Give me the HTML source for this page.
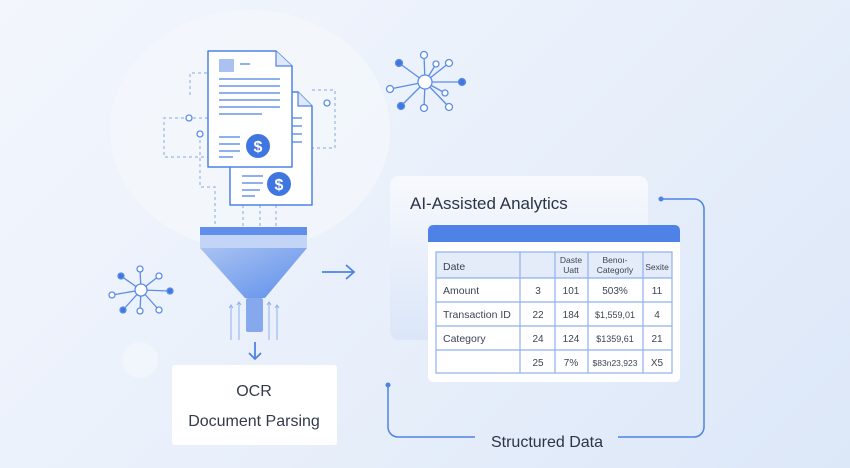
<!DOCTYPE html>
<html><head><style>
html,body{margin:0;padding:0;width:850px;height:468px;overflow:hidden}
body{background:linear-gradient(135deg,#f3f6fc 0%,#e9f0fb 50%,#dce7f8 100%);font-family:"Liberation Sans",sans-serif}
</style></head><body>
<svg width="850" height="468" viewBox="0 0 850 468" xmlns="http://www.w3.org/2000/svg" font-family="Liberation Sans, sans-serif">
<defs>
<linearGradient id="cone" x1="0" y1="0" x2="1" y2="1"><stop offset="0" stop-color="#a9c3f3"/><stop offset="1" stop-color="#5f8fea"/></linearGradient>
<linearGradient id="card" x1="0" y1="0" x2="0" y2="1"><stop offset="0" stop-color="#f7f9fd"/><stop offset="1" stop-color="#dbe6f8"/></linearGradient>
</defs>
<ellipse cx="250" cy="130" rx="140" ry="120" fill="#f4f7fc" opacity="0.8"/>
<circle cx="140" cy="360" r="18" fill="#f1f5fc"/>
<!-- dashed connectors -->
<g fill="none" stroke="#9ab5ea" stroke-width="1.2" stroke-dasharray="3,3">
<path d="M208 118 H164 V157 H208"/>
<path d="M190 95 V73 H208"/>
<path d="M200 140 V187 H215 V226"/>
<path d="M312 90 H335 V148 H312"/>
<path d="M243 205 V226 M260 205 V226 M276 205 V226"/>
</g>
<circle cx="189" cy="118" r="3" fill="#fff" stroke="#5b8de8" stroke-width="1.3"/>
<circle cx="200" cy="134" r="3" fill="#fff" stroke="#5b8de8" stroke-width="1.3"/>
<circle cx="327" cy="103" r="3" fill="#fff" stroke="#5b8de8" stroke-width="1.3"/>
<!-- back doc -->
<path d="M230 92 H298 L312 106 V205 H230 Z" fill="#fff" stroke="#4f82e6" stroke-width="1.5" stroke-linejoin="round"/>
<path d="M298 92 V106 H312" fill="#dfe8f8" stroke="#4f82e6" stroke-width="1.2"/>
<g stroke="#8fb0ee" stroke-width="2"><line x1="292" y1="118" x2="302" y2="118"/><line x1="292" y1="126" x2="302" y2="126"/><line x1="292" y1="134" x2="302" y2="134"/><line x1="292" y1="142" x2="302" y2="142"/>
<line x1="242" y1="176" x2="263" y2="176"/><line x1="242" y1="183" x2="263" y2="183"/><line x1="242" y1="190" x2="260" y2="190"/><line x1="242" y1="196" x2="255" y2="196"/></g>
<circle cx="279" cy="184" r="12" fill="#3f76e0"/><text x="279" y="190" text-anchor="middle" fill="#fff" font-size="16" font-weight="bold">$</text>
<!-- front doc -->
<path d="M208 51 H276 L292 66 V167 H208 Z" fill="#fff" stroke="#4f82e6" stroke-width="1.5" stroke-linejoin="round"/>
<path d="M276 51 V66 H292" fill="#dfe8f8" stroke="#4f82e6" stroke-width="1.2"/>
<rect x="219" y="59" width="15" height="13" fill="#a9c2f2"/>
<g stroke="#8fb0ee" stroke-width="2"><line x1="240" y1="64" x2="250" y2="64"/>
<line x1="219" y1="79" x2="280" y2="79"/><line x1="219" y1="86" x2="280" y2="86"/><line x1="219" y1="93" x2="280" y2="93"/><line x1="219" y1="100" x2="280" y2="100"/><line x1="219" y1="107" x2="280" y2="107"/><line x1="219" y1="114" x2="262" y2="114"/>
<line x1="219" y1="137" x2="240" y2="137"/><line x1="219" y1="144" x2="240" y2="144"/><line x1="219" y1="151" x2="240" y2="151"/><line x1="219" y1="157" x2="233" y2="157"/></g>
<circle cx="258" cy="146" r="12" fill="#3f76e0"/><text x="258" y="152" text-anchor="middle" fill="#fff" font-size="16" font-weight="bold">$</text>
<!-- funnel -->
<rect x="200" y="227" width="107" height="8" fill="#5f8fea"/>
<rect x="200" y="235" width="107" height="13" fill="#c3d5f6"/>
<path d="M200 248 H307 L265 298 H245 Z" fill="url(#cone)"/>
<rect x="246" y="298" width="17" height="34" rx="2" fill="#86a9ee"/>
<g stroke="#8fb0ee" stroke-width="1" fill="none"><path d="M231 340 V305 M229 308 L231 305 L233 308"/><path d="M239 340 V302 M237 305 L239 302 L241 305"/><path d="M269 340 V302 M267 305 L269 302 L271 305"/><path d="M277 340 V305 M275 308 L277 305 L279 308"/></g>
<path d="M255 342 V359 M249 353 L255 359 L261 353" stroke="#4f82e6" stroke-width="1.8" fill="none"/>
<path d="M322 272 H354 M346 265 L354 272 L346 279" stroke="#4f82e6" stroke-width="1.8" fill="none"/>
<!-- OCR box -->
<rect x="172" y="365" width="165" height="80" rx="3" fill="#fff"/>
<text x="254" y="396" text-anchor="middle" font-size="16" fill="#333a4a">OCR</text>
<text x="254" y="426" text-anchor="middle" font-size="16" fill="#333a4a">Document Parsing</text>
<!-- networks -->
<g stroke="#5b8de8" stroke-width="1.3" fill="#fff">
<line x1="425" y1="82" x2="424" y2="55"/><line x1="425" y1="82" x2="399" y2="63"/><line x1="425" y1="82" x2="436" y2="64"/><line x1="425" y1="82" x2="449" y2="63"/><line x1="425" y1="82" x2="462" y2="82"/><line x1="425" y1="82" x2="390" y2="89"/><line x1="425" y1="82" x2="445" y2="93"/><line x1="425" y1="82" x2="401" y2="106"/><line x1="425" y1="82" x2="424" y2="108"/><line x1="425" y1="82" x2="449" y2="107"/>
<circle cx="425" cy="82" r="7"/><circle cx="424" cy="55" r="3.5"/><circle cx="436" cy="64" r="3"/><circle cx="449" cy="63" r="3.5"/><circle cx="390" cy="89" r="3.5"/><circle cx="445" cy="93" r="3"/><circle cx="424" cy="108" r="3.5"/><circle cx="449" cy="107" r="3.5"/>
<circle cx="399" cy="63" r="3.5" fill="#3f76e0"/><circle cx="462" cy="82" r="3.5" fill="#3f76e0"/><circle cx="401" cy="106" r="3.5" fill="#3f76e0"/>
<line x1="141" y1="290" x2="140" y2="269"/><line x1="141" y1="290" x2="121" y2="276"/><line x1="141" y1="290" x2="159" y2="276"/><line x1="141" y1="290" x2="112" y2="295"/><line x1="141" y1="290" x2="170" y2="291"/><line x1="141" y1="290" x2="123" y2="310"/><line x1="141" y1="290" x2="140" y2="311"/><line x1="141" y1="290" x2="159" y2="310"/>
<circle cx="141" cy="290" r="6"/><circle cx="140" cy="269" r="3"/><circle cx="159" cy="276" r="3"/><circle cx="112" cy="295" r="3"/><circle cx="140" cy="311" r="3"/><circle cx="159" cy="310" r="3"/>
<circle cx="121" cy="276" r="3" fill="#3f76e0"/><circle cx="170" cy="291" r="3" fill="#3f76e0"/><circle cx="123" cy="310" r="3" fill="#3f76e0"/>
</g>
<!-- analytics card -->
<rect x="390" y="176" width="258" height="164" rx="9" fill="url(#card)"/>
<text x="410" y="209" font-size="17" fill="#2c3445">AI-Assisted Analytics</text>
<rect x="428" y="225" width="252" height="157" rx="5" fill="#fff"/>
<path d="M433 225 H675 A5 5 0 0 1 680 230 V242 H428 V230 A5 5 0 0 1 433 225 Z" fill="#4f82e6"/>
<rect x="436" y="252" width="236" height="26" fill="#e4ecfa"/>
<g stroke="#8fb0ee" stroke-width="1.2" fill="none">
<rect x="436" y="252" width="236" height="121"/>
<line x1="436" y1="278" x2="672" y2="278"/><line x1="436" y1="302" x2="672" y2="302"/><line x1="436" y1="326" x2="672" y2="326"/><line x1="436" y1="350" x2="672" y2="350"/>
<line x1="520" y1="252" x2="520" y2="373"/><line x1="555" y1="252" x2="555" y2="373"/><line x1="588" y1="252" x2="588" y2="373"/><line x1="643" y1="252" x2="643" y2="373"/>
</g>
<g font-size="10.5" fill="#3c4456">
<text x="443" y="270">Date</text>
<text x="443" y="294">Amount</text><text x="443" y="318">Transaction ID</text><text x="443" y="342">Category</text>
</g>
<g font-size="10" fill="#3c4456" text-anchor="middle">
<text x="571" y="263" font-size="8.5">Daste</text><text x="571" y="273" font-size="8.5">Uatt</text>
<text x="615" y="263" font-size="8.5">Benoı-</text><text x="615" y="273" font-size="8.5">Categorly</text>
<text x="657" y="270" font-size="8.5">Sexite</text>
<text x="538" y="294">3</text><text x="571" y="294">101</text><text x="615" y="294">503%</text><text x="657" y="294">11</text>
<text x="538" y="318">22</text><text x="571" y="318">184</text><text x="615" y="318" font-size="9">$1,559,01</text><text x="657" y="318">4</text>
<text x="538" y="342">24</text><text x="571" y="342">124</text><text x="615" y="342" font-size="9">$1359,61</text><text x="657" y="342">21</text>
<text x="538" y="366">25</text><text x="571" y="366">7%</text><text x="615" y="366" font-size="8.5">$83n23,923</text><text x="657" y="366">X5</text>
</g>
<!-- structured data loop -->
<g stroke="#4f82e6" stroke-width="1.5" fill="none">
<path d="M661 199 H694 A10 10 0 0 1 704 209 V427 A10 10 0 0 1 694 437 H618"/>
<path d="M388 385 V427 A10 10 0 0 0 398 437 H475"/>
</g>
<circle cx="661" cy="199" r="2.5" fill="#4f82e6"/><circle cx="388" cy="385" r="2.5" fill="#4f82e6"/>
<text x="547" y="447" text-anchor="middle" font-size="16" fill="#2c3445">Structured Data</text>
</svg>
</body></html>
